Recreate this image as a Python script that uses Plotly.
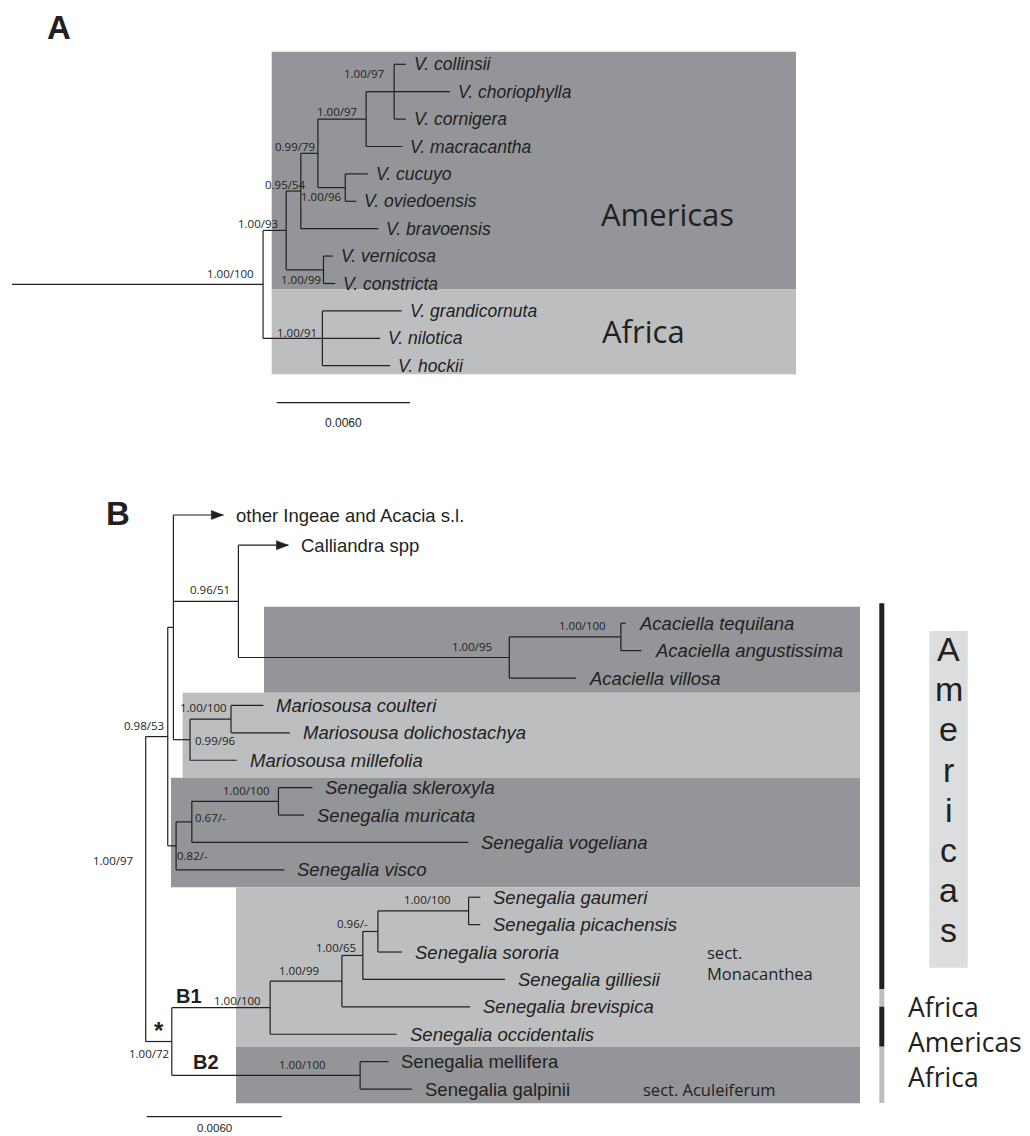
import plotly.graph_objects as go

W, H = 1030, 1136

# ======================= DATA =======================
# Panel A (Vachellia): edges (parent, child, branch length in substitutions/site)
A_EDGES = [
    ("A0", "a100", 0.01130),
    ("a100", "a93", 0.00104),
    ("a93", "a54", 0.00066),
    ("a54", "a79", 0.00077),
    ("a79", "a97", 0.00217),
    ("a97", "a97t", 0.00126),
    ("a97t", "V. collinsii", 0.00053),
    ("a97t", "V. choriophylla", 0.00252),
    ("a97t", "V. cornigera", 0.00053),
    ("a97", "V. macracantha", 0.00163),
    ("a79", "a96", 0.00123),
    ("a96", "V. cucuyo", 0.00102),
    ("a96", "V. oviedoensis", 0.00050),
    ("a54", "V. bravoensis", 0.00349),
    ("a93", "a99", 0.00168),
    ("a99", "V. vernicosa", 0.00042),
    ("a99", "V. constricta", 0.00053),
    ("a100", "a91", 0.00267),
    ("a91", "V. grandicornuta", 0.00357),
    ("a91", "V. nilotica", 0.00260),
    ("a91", "V. hockii", 0.00305),
]
A_SUPPORT = {
    "a100": "1.00/100", "a93": "1.00/93", "a54": "0.95/54", "a79": "0.99/79",
    "a97": "1.00/97", "a97t": "1.00/97", "a96": "1.00/96", "a99": "1.00/99",
    "a91": "1.00/91",
}
A_REGIONS = ["Americas", "Africa"]

# Panel B (Senegalia and relatives)
B_EDGES = [
    ("b97", "b53", 0.00098),
    ("b53", "bY", 0.00025),
    ("bY", "other Ingeae and Acacia s.l.", 0.00222),
    ("bY", "b51", 0.00289),
    ("b51", "Calliandra spp", 0.00222),
    ("b51", "b95", 0.01204),
    ("b95", "bac", 0.00496),
    ("bac", "Acaciella tequilana", 0.00022),
    ("bac", "Acaciella angustissima", 0.00092),
    ("b95", "Acaciella villosa", 0.00296),
    ("bY", "b96m", 0.00074),
    ("b96m", "b100m", 0.00182),
    ("b100m", "Mariosousa coulteri", 0.00144),
    ("b100m", "Mariosousa dolichostachya", 0.00262),
    ("b96m", "Mariosousa millefolia", 0.00208),
    ("b53", "b82", 0.00037),
    ("b82", "b67", 0.00070),
    ("b67", "b100s", 0.00385),
    ("b100s", "Senegalia skleroxyla", 0.00151),
    ("b100s", "Senegalia muricata", 0.00114),
    ("b67", "Senegalia vogeliana", 0.01229),
    ("b82", "Senegalia visco", 0.00481),
    ("b97", "b72", 0.00116),
    ("b72", "bB1", 0.00437),
    ("bB1", "b99", 0.00319),
    ("b99", "b65", 0.00093),
    ("b65", "b96", 0.00067),
    ("b96", "b100g", 0.00403),
    ("b100g", "Senegalia gaumeri", 0.00052),
    ("b100g", "Senegalia picachensis", 0.00052),
    ("b96", "Senegalia sororia", 0.00107),
    ("b65", "Senegalia gilliesii", 0.00632),
    ("b99", "Senegalia brevispica", 0.00570),
    ("bB1", "Senegalia occidentalis", 0.00563),
    ("b72", "bB2", 0.00837),
    ("bB2", "Senegalia mellifera", 0.00126),
    ("bB2", "Senegalia galpinii", 0.00230),
]
B_SUPPORT = {
    "b97": "1.00/97", "b53": "0.98/53", "b51": "0.96/51", "b95": "1.00/95",
    "bac": "1.00/100", "b96m": "0.99/96", "b100m": "1.00/100", "b82": "0.82/-",
    "b67": "0.67/-", "b100s": "1.00/100", "b72": "1.00/72", "bB1": "1.00/100",
    "b99": "1.00/99", "b65": "1.00/65", "b96": "0.96/-", "b100g": "1.00/100",
    "bB2": "1.00/100",
}
B_COLLAPSED = ["other Ingeae and Acacia s.l.", "Calliandra spp"]
B_CLADE_TAGS = [("b72", "*"), ("bB1", "B1"), ("bB2", "B2")]
B_SECTIONS = ["sect.<br>Monacanthea", "sect. Aculeiferum"]
B_SIDE_REGIONS = ["Americas", "Africa", "Americas", "Africa"]

SCALE_LEN = 0.0060
SCALE_TXT = "0.0060"

# ======================= STYLE / LAYOUT =======================
INK = "#231f20"
DARK = "#939598"
LIGHT = "#bcbec0"
PALE = "#dcdddf"
ARIAL = "Liberation Sans, Arial, sans-serif"
MYRIAD = "Open Sans, Noto Sans, sans-serif"

PX_A = 0.006 / 133.3      # subst/site per pixel, panel A
PX_B = 0.006 / 135.0      # panel B
ROW = 27.4                # pixels per leaf row

B_ROW_GAP = {"Calliandra spp": 0.1, "Acaciella tequilana": 1.85}
UPRIGHT = set(B_COLLAPSED) | {"Senegalia mellifera", "Senegalia galpinii"}

# support label placement: node -> (xanchor, dx px, dy px; dy>0 = down)
LABEL_POS = {
    "a100": ("right", -7, -11), "a93": ("right", -6, -7), "a54": ("right", 7, -7),
    "a79": ("right", -1, -7), "a97": ("right", -7, -8), "a97t": ("right", -8, -18),
    "a96": ("right", -1, 9), "a99": ("right", 0, 10), "a91": ("right", -3, -6),
    "b97": ("right", -11, -29), "b53": ("right", -2, -11), "b51": ("right", -6, -12),
    "b95": ("right", -15, -11), "bac": ("right", -13, -11), "b96m": ("left", 3, 1),
    "b100m": ("right", -2, -12), "b82": ("left", -1, 10), "b67": ("left", 1, -4),
    "b100s": ("right", -6, -11), "b72": ("right", -1, 12), "bB1": ("right", -7, -7),
    "b99": ("right", -21, -11), "b65": ("right", -5, -8), "b96": ("right", -8, -8),
    "b100g": ("right", -16, -11), "bB2": ("right", -32, -11),
}
TAG_POS = {"*": ("center", -13, -11, 24), "B1": ("left", 2, -12, 20), "B2": ("left", 19, -13, 20)}


def layout_tree(edges, root, row_gap=None):
    row_gap = row_gap or {}
    kids, blen = {}, {}
    for p, c, bl in edges:
        kids.setdefault(p, []).append(c)
        blen[c] = bl
    xs, ys, leaves = {}, {}, []
    state = {"k": 0, "off": 0.0}

    def walk(n, x):
        xs[n] = x
        ch = kids.get(n, [])
        if not ch:
            state["off"] += row_gap.get(n, 0.0)
            ys[n] = state["k"] + state["off"]
            state["k"] += 1
            leaves.append(n)
            return
        for c in ch:
            walk(c, x + blen[c])
        ys[n] = (ys[ch[0]] + ys[ch[-1]]) / 2.0

    walk(root, 0.0)
    return kids, xs, ys, leaves


def branch_xy(kids, xs, ys):
    lx, ly = [], []
    for p, ch in kids.items():
        for c in ch:
            lx += [xs[p], xs[c], None]
            ly += [ys[c], ys[c], None]
        if len(ch) > 1:
            lx += [xs[p], xs[p], None]
            ly += [ys[ch[0]], ys[ch[-1]], None]
    return lx, ly


fig = go.Figure()
ann = []
shapes = []


def paper_rect(x0, y0, x1, y1, color):
    shapes.append(dict(type="rect", xref="paper", yref="paper", x0=x0 / W, x1=x1 / W,
                       y0=1 - y1 / H, y1=1 - y0 / H, fillcolor=color,
                       line=dict(width=0), layer="below"))


def paper_text(x, y, text, size, family=MYRIAD, xanchor="left", bold=False):
    ann.append(dict(xref="paper", yref="paper", x=x / W, y=1 - y / H, text=text,
                    showarrow=False, xanchor=xanchor, yanchor="middle", align="left",
                    font=dict(size=size, family=family, color=INK,
                              weight="bold" if bold else "normal")))


# ---------- Panel A ----------
kA, xA, yA, leavesA = layout_tree(A_EDGES, "A0")
paper_rect(271.7, 51.7, 796, 289.3, DARK)
paper_rect(271.7, 289.3, 796, 374.3, LIGHT)
lx, ly = branch_xy(kA, xA, yA)
fig.add_trace(go.Scatter(x=lx, y=ly, mode="lines", line=dict(color=INK, width=1.2),
                         xaxis="x", yaxis="y", hoverinfo="skip", showlegend=False))
for leaf in leavesA:
    ann.append(dict(x=xA[leaf], y=yA[leaf], xref="x", yref="y", text="<i>%s</i>" % leaf,
                    showarrow=False, xanchor="left", yanchor="middle", xshift=6,
                    font=dict(size=17.5, family=ARIAL, color=INK)))
for node, lab in A_SUPPORT.items():
    xa, dx, dy = LABEL_POS[node]
    ann.append(dict(x=xA[node], y=yA[node], xref="x", yref="y", text=lab, showarrow=False,
                    xanchor=xa, yanchor="middle", xshift=dx, yshift=-dy,
                    font=dict(size=11.5, family=MYRIAD, color=INK)))
# scale bar A
sbx0 = 264.7 * PX_A
sby = (402.7 - 64.3) / ROW
fig.add_trace(go.Scatter(x=[sbx0, sbx0 + SCALE_LEN], y=[sby, sby], mode="lines",
                         line=dict(color=INK, width=1.2), xaxis="x", yaxis="y",
                         hoverinfo="skip", showlegend=False))
ann.append(dict(x=sbx0 + SCALE_LEN / 2, y=sby, xref="x", yref="y", text=SCALE_TXT,
                showarrow=False, yanchor="middle", yshift=-20,
                font=dict(size=12, family=ARIAL, color=INK)))
paper_text(599, 214, A_REGIONS[0], 31)
paper_text(600, 331, A_REGIONS[1], 31)
paper_text(59, 27, "A", 33, family=ARIAL, xanchor="center", bold=True)

# ---------- Panel B ----------
kB, xB, yB, leavesB = layout_tree(B_EDGES, "b97", B_ROW_GAP)
paper_rect(264, 606.7, 860, 692.7, DARK)
paper_rect(182.7, 692.7, 860, 777.7, LIGHT)
paper_rect(171, 777.7, 860, 887.3, DARK)
paper_rect(236, 887.3, 860, 1046.7, LIGHT)
paper_rect(236, 1046.7, 860, 1103.3, DARK)
lx, ly = branch_xy(kB, xB, yB)
fig.add_trace(go.Scatter(x=lx, y=ly, mode="lines", line=dict(color=INK, width=1.2),
                         xaxis="x2", yaxis="y2", hoverinfo="skip", showlegend=False))
# arrowheads for collapsed clades
for leaf in B_COLLAPSED:
    tx, ty = xB[leaf], yB[leaf]
    L, h = 12 * PX_B, 4.5 / ROW
    fig.add_trace(go.Scatter(x=[tx - L, tx, tx - L, tx - L], y=[ty - h, ty, ty + h, ty - h],
                             mode="lines", fill="toself", fillcolor=INK,
                             line=dict(color=INK, width=0.5), xaxis="x2", yaxis="y2",
                             hoverinfo="skip", showlegend=False))
for leaf in leavesB:
    txt = leaf if leaf in UPRIGHT else "<i>%s</i>" % leaf
    ann.append(dict(x=xB[leaf], y=yB[leaf], xref="x2", yref="y2", text=txt,
                    showarrow=False, xanchor="left", yanchor="middle", xshift=11,
                    font=dict(size=18.5, family=ARIAL, color=INK)))
for node, lab in B_SUPPORT.items():
    xa, dx, dy = LABEL_POS[node]
    ann.append(dict(x=xB[node], y=yB[node], xref="x2", yref="y2", text=lab, showarrow=False,
                    xanchor=xa, yanchor="middle", xshift=dx, yshift=-dy,
                    font=dict(size=11.5, family=MYRIAD, color=INK)))
for node, tag in B_CLADE_TAGS:
    xa, dx, dy, sz = TAG_POS[tag]
    ann.append(dict(x=xB["b72"], y=yB[node], xref="x2", yref="y2", text="<b>%s</b>" % tag,
                    showarrow=False, xanchor=xa, yanchor="middle", xshift=dx, yshift=-dy,
                    font=dict(size=sz, family=ARIAL, color=INK)))
# scale bar B
sbx0 = 1.0 * PX_B
sby = (1116.7 - 515) / ROW
fig.add_trace(go.Scatter(x=[sbx0, sbx0 + SCALE_LEN], y=[sby, sby], mode="lines",
                         line=dict(color=INK, width=1.2), xaxis="x2", yaxis="y2",
                         hoverinfo="skip", showlegend=False))
ann.append(dict(x=sbx0 + SCALE_LEN / 2, y=sby, xref="x2", yref="y2", text=SCALE_TXT,
                showarrow=False, yanchor="middle", yshift=-11,
                font=dict(size=11.5, family=ARIAL, color=INK)))
paper_text(118, 513, "B", 33, family=ARIAL, xanchor="center", bold=True)
paper_text(705, 962.5, B_SECTIONS[0], 16.5)
paper_text(641, 1089, B_SECTIONS[1], 16.5)

# side bar with regions
seg_px = [(603.3, 989.3), (989.3, 1006.7), (1006.7, 1046.7), (1046.7, 1103)]
for (y0, y1), reg in zip(seg_px, B_SIDE_REGIONS):
    paper_rect(879.3, y0, 884.3, y1, INK if reg == "Americas" else LIGHT)
paper_rect(929.3, 631, 967.7, 967.7, PALE)
for i, ch in enumerate("Americas"):
    paper_text(948.5, 649 + 40.2 * i, ch, 34, family=ARIAL, xanchor="center")
for y, reg in zip([1006.7, 1041.7, 1076.7], B_SIDE_REGIONS[1:]):
    paper_text(906, y, reg, 26.5)

ax_common = dict(visible=False, showgrid=False, zeroline=False, fixedrange=True)
fig.update_layout(
    width=W, height=H, margin=dict(l=0, r=0, t=0, b=0),
    paper_bgcolor="white", plot_bgcolor="white", showlegend=False,
    xaxis=dict(domain=[0, 1], range=[-12 * PX_A, (W - 12) * PX_A], anchor="y", **ax_common),
    yaxis=dict(domain=[1 - 460 / H, 1], range=[(460 - 64.3) / ROW, -64.3 / ROW],
               anchor="x", **ax_common),
    xaxis2=dict(domain=[0, 1], range=[-145.7 * PX_B, (W - 145.7) * PX_B], anchor="y2",
                **ax_common),
    yaxis2=dict(domain=[0, 1 - 460 / H], range=[(H - 515) / ROW, (460 - 515) / ROW],
                anchor="x2", **ax_common),
    shapes=shapes, annotations=ann,
)
fig.write_html("out.html", config={"displayModeBar": False},
               post_script="document.body.style.margin='0px';"
                           "document.body.style.overflow='hidden';")
